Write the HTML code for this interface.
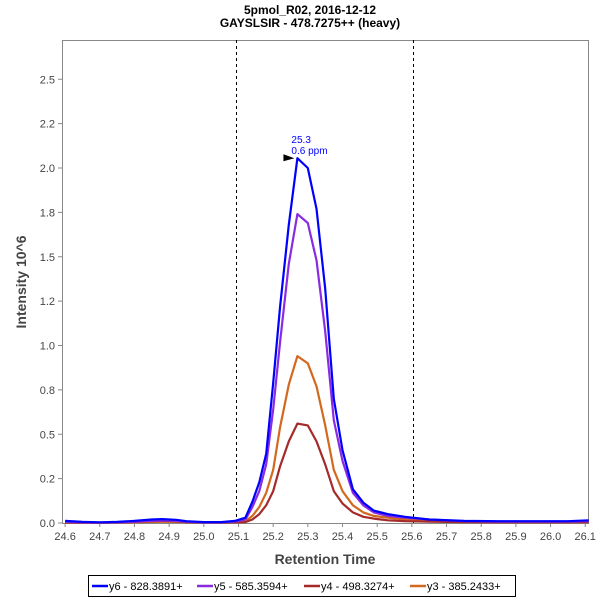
<!DOCTYPE html>
<html><head><meta charset="utf-8"><style>
body{margin:0;background:#fff;font-family:"Liberation Sans",sans-serif}
</style></head><body>
<svg id="chart" width="600" height="600" xmlns="http://www.w3.org/2000/svg" font-family="Liberation Sans, sans-serif">
<rect width="600" height="600" fill="#fff"/>
<text x="310" y="14" text-anchor="middle" font-size="12" font-weight="bold">5pmol_R02, 2016-12-12</text>
<text x="310" y="27" text-anchor="middle" font-size="12" font-weight="bold">GAYSLSIR - 478.7275++ (heavy)</text>
<text transform="translate(26,282) rotate(-90)" text-anchor="middle" font-size="14" font-weight="bold" fill="#444">Intensity 10^6</text>
<text x="325" y="564" text-anchor="middle" font-size="14" font-weight="bold" fill="#444">Retention Time</text>
<g id="plot"></g>
<g>
<rect x="88.5" y="575.5" width="427" height="21" fill="#fff" stroke="#000"/>
<line x1="92" y1="586" x2="108" y2="586" stroke="#0000ff" stroke-width="2.5"/>
<text x="109" y="590" font-size="11">y6 - 828.3891+</text>
<line x1="197" y1="586" x2="213" y2="586" stroke="#8a2be2" stroke-width="2.5"/>
<text x="214" y="590" font-size="11">y5 - 585.3594+</text>
<line x1="304" y1="586" x2="320" y2="586" stroke="#a52a2a" stroke-width="2.5"/>
<text x="321" y="590" font-size="11">y4 - 498.3274+</text>
<line x1="410" y1="586" x2="426" y2="586" stroke="#d2691e" stroke-width="2.5"/>
<text x="427" y="590" font-size="11">y3 - 385.2433+</text>
</g>
</svg>
<script>
const times=[24.60,24.65,24.70,24.75,24.80,24.85,24.88,24.92,24.95,25.00,25.05,25.09,25.12,25.14,25.16,25.18,25.20,25.22,25.245,25.27,25.30,25.325,25.35,25.375,25.40,25.43,25.46,25.49,25.53,25.58,25.65,25.75,25.85,25.95,26.05,26.11];
const y6=[0.012,0.006,0.004,0.006,0.012,0.02,0.022,0.018,0.01,0.005,0.005,0.012,0.03,0.12,0.23,0.39,0.79,1.22,1.68,2.055,2.0,1.77,1.32,0.70,0.41,0.19,0.115,0.07,0.05,0.035,0.02,0.012,0.01,0.01,0.01,0.015];
const y5=[0.006,0.004,0.003,0.004,0.008,0.012,0.014,0.012,0.007,0.004,0.004,0.008,0.02,0.09,0.18,0.33,0.64,1.02,1.46,1.74,1.69,1.48,1.08,0.58,0.35,0.17,0.10,0.06,0.04,0.03,0.02,0.01,0.008,0.008,0.008,0.01];
const y4=[0.003,0.002,0.002,0.003,0.006,0.01,0.012,0.01,0.005,0.003,0.003,0.004,0.005,0.02,0.05,0.10,0.18,0.32,0.46,0.56,0.55,0.46,0.33,0.18,0.11,0.06,0.035,0.025,0.015,0.01,0.008,0.005,0.004,0.004,0.004,0.005];
const y3=[0.003,0.002,0.002,0.003,0.004,0.006,0.007,0.006,0.004,0.003,0.003,0.004,0.01,0.04,0.09,0.17,0.30,0.54,0.78,0.94,0.90,0.77,0.55,0.30,0.18,0.10,0.06,0.04,0.03,0.02,0.01,0.006,0.005,0.005,0.005,0.006];
const xTicks=[24.6,24.7,24.8,24.9,25.0,25.1,25.2,25.3,25.4,25.5,25.6,25.7,25.8,25.9,26.0,26.1];
const yTicks=[0,0.25,0.5,0.75,1.0,1.25,1.5,1.75,2.0,2.25,2.5];
const yTickLabels=["0.0","0.2","0.5","0.8","1.0","1.2","1.5","1.8","2.0","2.2","2.5"];
const boundaries=[25.093,25.603];
const apexTime=25.27, apexValue=2.055;

const L=62,R=588,T=40,B=523, XMIN=24.591, XMAX=26.108, YMIN=0, YMAX=(B-T)/177.5;
const sx=t=>L+(t-XMIN)/(XMAX-XMIN)*(R-L);
const sy=v=>B-(v-YMIN)/(YMAX-YMIN)*(B-T);
const NS="http://www.w3.org/2000/svg";
const g=document.getElementById('plot');
function mk(tag,attrs){const e=document.createElementNS(NS,tag);for(const k in attrs)e.setAttribute(k,attrs[k]);g.appendChild(e);return e;}
const frame=mk('rect',{x:L+0.5,y:T+0.5,width:R-L,height:B-T,fill:'#fff',stroke:'#888'});


xTicks.forEach(t=>{const x=sx(t);
 const l=mk('line',{x1:x,y1:B,x2:x,y2:B+4,stroke:'#888'});
 
 
 const tx=mk('text',{x:x,y:B+17,'text-anchor':'middle','font-size':'11',fill:'#444'});tx.textContent=t.toFixed(1);
 
 
});
yTicks.forEach((v,i)=>{const y=sy(v);
 const l=mk('line',{x1:L-4,y1:y,x2:L,y2:y,stroke:'#888'});
 
 
 const tx=mk('text',{x:L-7,y:y+4,'text-anchor':'end','font-size':'11',fill:'#444'});tx.textContent=yTickLabels[i];
 
 
});
boundaries.forEach(b=>{const x=Math.round(sx(b))+0.5;
 const l=mk('line',{x1:x,y1:T,x2:x,y2:B,stroke:'#000','stroke-dasharray':'3,3','stroke-width':1});
 
 
});
[[y3,'#d2691e','series-y3'],[y4,'#a52a2a','series-y4'],[y5,'#8a2be2','series-y5'],[y6,'#0000ff','series-y6']].forEach(([vals,c,n])=>{
 const d=vals.map((v,i)=>(i?'L':'M')+sx(times[i]).toFixed(1)+','+sy(v).toFixed(1)).join('');
 const p=mk('path',{d:d,fill:'none',stroke:c,'stroke-width':2.2,'stroke-linejoin':'round'});
 
 
});
const ax=sx(apexTime), ay=sy(apexValue);
const tri=mk('polygon',{points:`${ax-14},${ay-4} ${ax-3},${ay} ${ax-14},${ay+3}`,fill:'#000'});


const a1=mk('text',{x:ax-6,y:ay-15,'font-size':'10',fill:'#0000ff'});a1.textContent=apexTime.toFixed(1);


const a2=mk('text',{x:ax-6,y:ay-4,'font-size':'10',fill:'#0000ff'});a2.textContent='0.6 ppm';


</script>
</body></html>
